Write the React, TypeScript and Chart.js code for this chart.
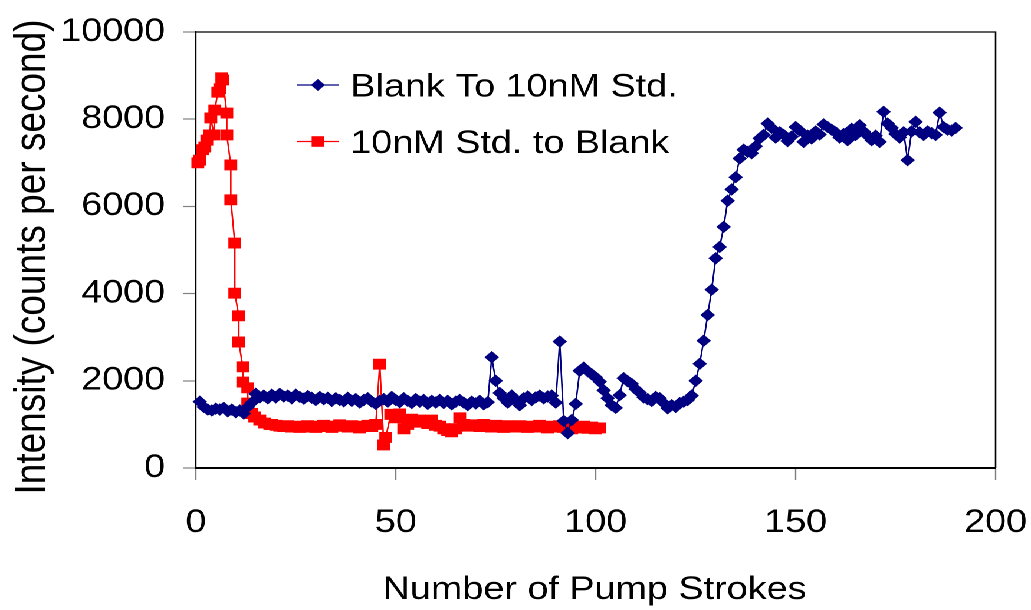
import React, { useEffect, useRef } from 'react';
import { Chart, registerables } from 'chart.js';

Chart.register(...registerables);

const BLUE_LABEL = 'Blank To 10nM Std.';
const RED_LABEL = '10nM Std. to Blank';
const X_TITLE = 'Number of Pump Strokes';
const Y_TITLE = 'Intensity (counts per second)';
const X_TICKS = [0, 50, 100, 150, 200];
const Y_TICKS = [0, 2000, 4000, 6000, 8000, 10000];

// Blank -> 10nM Std. : one reading per pump stroke, strokes 1..190
const blueFirstStroke = 1;
const blueValues = [
  1520, 1400, 1340, 1320, 1360, 1340, 1380, 1300, 1340, 1280,
  1320, 1250, 1400, 1500, 1700, 1620, 1660, 1600, 1680, 1620,
  1700, 1640, 1660, 1600, 1680, 1630, 1590, 1650, 1610, 1560,
  1630, 1580, 1610, 1540, 1600, 1560, 1530, 1610, 1540, 1580,
  1500, 1560, 1600, 1520, 1470, 1540, 1580, 1520, 1630, 1560,
  1510, 1600, 1540, 1490, 1580, 1520, 1560, 1470, 1540, 1500,
  1560, 1490, 1540, 1460, 1520, 1560, 1500, 1440, 1520, 1480,
  1540, 1460, 1510, 2540, 2000, 1720, 1600, 1500, 1660, 1560,
  1440, 1600, 1640, 1560, 1620, 1660, 1600, 1640, 1660, 1500,
  2900, 1080, 800, 1100, 1470, 2230, 2300, 2220, 2150, 2080,
  1980, 1780, 1600, 1440, 1380, 1670, 2060, 1990, 1930, 1810,
  1730, 1620, 1580, 1540, 1630, 1600, 1490, 1370, 1440, 1400,
  1490, 1520, 1560, 1660, 2000, 2390, 2920, 3510, 4090, 4810,
  5070, 5530, 6130, 6390, 6670, 7100, 7300, 7250, 7220, 7380,
  7560, 7640, 7900, 7800, 7580, 7700, 7640, 7500, 7600, 7820,
  7740, 7480, 7620, 7560, 7720, 7650, 7880, 7820, 7760, 7700,
  7580, 7660, 7520, 7780, 7640, 7860, 7720, 7620, 7520, 7620,
  7480, 8170, 7900, 7800, 7660, 7580, 7700, 7060, 7720, 7940,
  7700, 7640, 7720, 7680, 7640, 8150, 7820, 7760, 7740, 7800,
];

// 10nM Std. -> Blank
const redStrokes = [
  0.5, 1, 1.75, 2.25, 2.75, 3.5, 3.75, 4.5, 4.75, 5.5,
  6, 6.5, 6.75, 7.75, 7.75, 8.75, 8.75, 9.75, 9.75, 10.75,
  10.75, 11.75, 11.75, 13, 13, 14, 14.75, 16, 17.25, 18.5,
  19, 20, 21, 22, 23, 24, 25, 26, 27, 28,
  29, 30, 31, 32, 33, 34, 35, 36, 37, 38,
  39, 40, 41, 42, 43, 44, 45, 46, 47, 47.5,
  48.75, 50, 51, 52, 53, 54, 55, 56, 57, 58,
  59, 60, 61, 62, 63, 64, 65, 66, 67, 68,
  69, 70, 71, 72, 73, 74, 75, 76, 77, 78,
  79, 80, 81, 82, 83, 84, 85, 86, 87, 88,
  89, 90, 91, 92, 93, 94, 95, 96, 97, 98,
  99, 100, 101,
];
const redValues = [
  7000, 7060, 7300, 7360, 7520, 7640, 8030, 7640, 8210, 8620,
  8700, 8950, 8900, 8140, 7640, 6950, 6150, 5160, 4010, 3490,
  2890, 2320, 1970, 1840, 1490, 1250, 1170, 1100, 1030, 1000,
  1000, 980, 960, 950, 970, 940, 960, 930, 950, 970,
  940, 930, 960, 980, 950, 930, 960, 990, 960, 940,
  970, 950, 920, 960, 980, 950, 1000, 2380, 530, 700,
  1230, 1150, 1240, 900, 1000, 1120, 1050, 1100, 1060, 1020,
  1100, 980, 960, 900, 860, 830, 900, 1150, 1000, 960,
  990, 970, 950, 1000, 960, 940, 980, 950, 930, 970,
  960, 940, 970, 950, 930, 960, 940, 980, 950, 920,
  960, 940, 970, 930, 950, 900, 940, 920, 960, 910,
  940, 900, 920,
];

const BLUE = '#000080';
const RED = '#FF0000';
const FONT = '"Liberation Sans", Arial, sans-serif';
const CANVAS_W = 874;
const CANVAS_H = 610;
const STRETCH = 1031 / CANVAS_W;

export default function App() {
  const ref = useRef<HTMLCanvasElement | null>(null);

  useEffect(() => {
    const canvas = ref.current;
    if (!canvas) return;

    const blueData = blueValues.map((v, i) => ({ x: blueFirstStroke + i, y: v }));
    const redData = redStrokes.map((x, i) => ({ x, y: redValues[i] }));

    const framePlugin = {
      id: 'frameBox',
      beforeDatasetsDraw(chart: any) {
        const { ctx, chartArea: a } = chart;
        ctx.save();
        ctx.strokeStyle = '#000';
        ctx.lineWidth = 1.3;
        ctx.beginPath();
        ctx.moveTo(a.left, a.top);
        ctx.lineTo(a.right, a.top);
        ctx.lineTo(a.right, a.bottom);
        ctx.stroke();
        ctx.restore();
      },
    };

    const textPlugin = {
      id: 'inlineLegendAndTitles',
      afterDraw(chart: any) {
        const ctx = chart.ctx;
        const items = [
          { label: BLUE_LABEL, color: BLUE, shape: 'diamond', y: 85 },
          { label: RED_LABEL, color: RED, shape: 'square', y: 141.5 },
        ];
        ctx.save();
        items.forEach((it) => {
          ctx.strokeStyle = it.color;
          ctx.lineWidth = 1.3;
          ctx.beginPath();
          ctx.moveTo(252, it.y);
          ctx.lineTo(287, it.y);
          ctx.stroke();
          ctx.fillStyle = it.color;
          ctx.beginPath();
          const cx = 269.5;
          if (it.shape === 'diamond') {
            const r = 6;
            ctx.moveTo(cx - r, it.y);
            ctx.lineTo(cx, it.y - r);
            ctx.lineTo(cx + r, it.y);
            ctx.lineTo(cx, it.y + r);
            ctx.closePath();
          } else {
            const h = 5.3;
            ctx.rect(cx - h, it.y - h, 2 * h, 2 * h);
          }
          ctx.fill();
          ctx.fillStyle = '#000';
          ctx.font = `32px ${FONT}`;
          ctx.textAlign = 'left';
          ctx.textBaseline = 'alphabetic';
          ctx.fillText(it.label, 297, it.y + 11.5);
        });

        // axis titles
        ctx.fillStyle = '#000';
        ctx.font = `37px ${FONT}`;
        ctx.textAlign = 'center';
        ctx.textBaseline = 'alphabetic';
        ctx.save();
        ctx.translate(38, 257);
        ctx.rotate(-Math.PI / 2);
        ctx.fillText(Y_TITLE, 0, 0);
        ctx.restore();

        ctx.font = `32px ${FONT}`;
        ctx.fillText(X_TITLE, 504, 599);
        ctx.restore();
      },
    };

    const noOverflow = (scale: any) => {
      scale.paddingLeft = 0;
      scale.paddingRight = 0;
      scale.paddingTop = 0;
      scale.paddingBottom = 0;
    };

    const chart = new Chart(canvas, {
      type: 'scatter',
      data: {
        datasets: [
          {
            label: BLUE_LABEL,
            data: blueData,
            showLine: true,
            borderColor: BLUE,
            backgroundColor: BLUE,
            borderWidth: 1.3,
            pointStyle: 'rectRot',
            pointRadius: 5.5,
            pointBorderWidth: 1,
            pointBackgroundColor: BLUE,
            pointBorderColor: BLUE,
            clip: false,
          },
          {
            label: RED_LABEL,
            data: redData,
            showLine: true,
            borderColor: RED,
            backgroundColor: RED,
            borderWidth: 1.3,
            pointStyle: 'rect',
            pointRadius: 7,
            pointBorderWidth: 1,
            pointBackgroundColor: RED,
            pointBorderColor: RED,
            clip: false,
          },
        ],
      },
      options: {
        animation: false,
        responsive: false,
        devicePixelRatio: 2,
        events: [],
        layout: { padding: { left: 0, right: 30, top: 32, bottom: 0 } },
        plugins: {
          legend: { display: false },
          tooltip: { enabled: false },
        },
        scales: {
          x: {
            type: 'linear',
            min: 0,
            max: 200,
            afterFit(scale: any) {
              scale.height = 142;
              noOverflow(scale);
            },
            afterBuildTicks(scale: any) {
              scale.ticks = X_TICKS.map((v) => ({ value: v }));
            },
            grid: {
              drawOnChartArea: false,
              drawTicks: true,
              tickLength: 12,
              tickColor: '#808080',
              tickWidth: 1.2,
            },
            border: { display: true, color: '#000', width: 2 },
            ticks: {
              color: '#000',
              padding: 24,
              maxRotation: 0,
              font: { family: FONT, size: 32 },
              callback: (v: any) => String(v),
            },
            title: { display: false },
          },
          y: {
            type: 'linear',
            min: 0,
            max: 10000,
            afterFit(scale: any) {
              scale.width = 166;
              noOverflow(scale);
            },
            afterBuildTicks(scale: any) {
              scale.ticks = Y_TICKS.map((v) => ({ value: v }));
            },
            grid: {
              drawOnChartArea: false,
              drawTicks: true,
              tickLength: 11,
              tickColor: '#808080',
              tickWidth: 1.2,
            },
            border: { display: true, color: '#000', width: 1.6 },
            ticks: {
              color: '#000',
              padding: 15,
              font: { family: FONT, size: 32 },
              callback: (v: any) => String(v),
            },
            title: { display: false },
          },
        },
      },
      plugins: [framePlugin, textPlugin],
    } as any);

    return () => {
      chart.destroy();
    };
  }, []);

  return (
    <div
      style={{
        position: 'fixed',
        left: 0,
        top: 0,
        width: CANVAS_W,
        height: CANVAS_H,
        transform: `scaleX(${STRETCH})`,
        transformOrigin: '0 0',
        background: '#fff',
      }}
    >
      <canvas
        ref={ref}
        width={CANVAS_W}
        height={CANVAS_H}
        style={{ width: CANVAS_W, height: CANVAS_H, display: 'block' }}
      />
    </div>
  );
}
